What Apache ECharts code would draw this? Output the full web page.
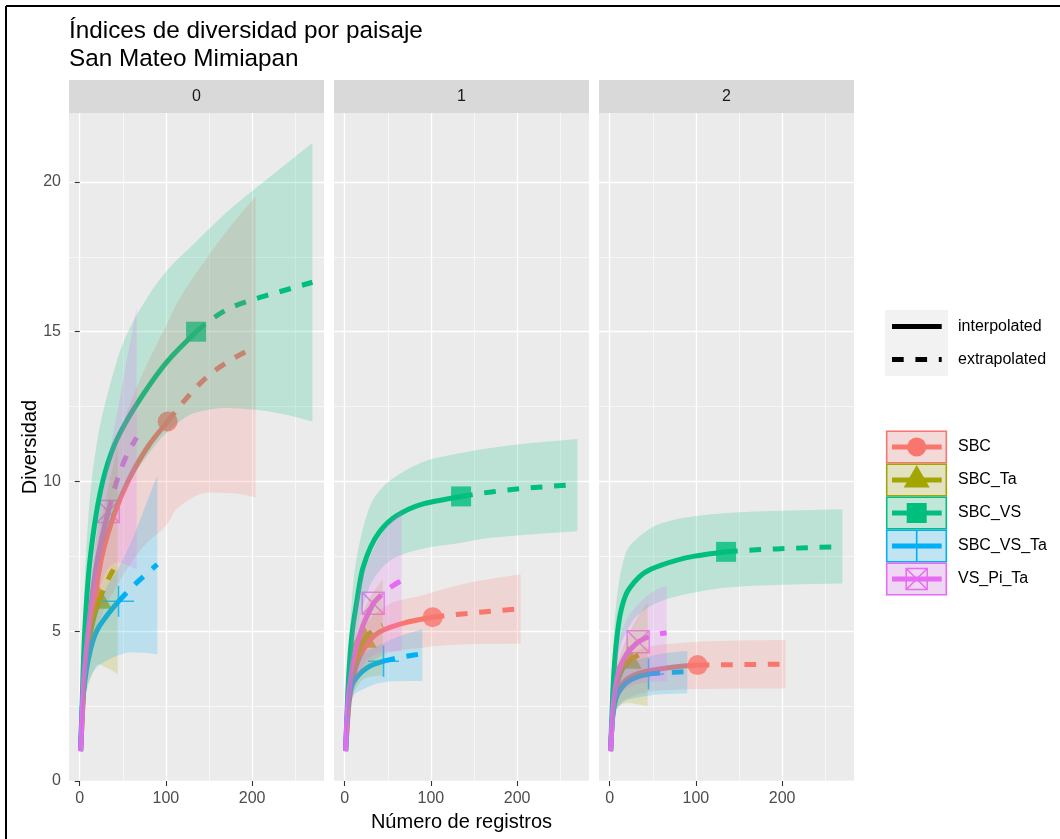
<!DOCTYPE html>
<html><head><meta charset="utf-8">
<script src="https://cdn.jsdelivr.net/npm/echarts@6/dist/echarts.min.js"></script>
<style>html,body{margin:0;padding:0;background:#fff}#c{width:1060px;height:839px}</style>
</head><body><div id="c"></div>
<script>
// ---------------- data ----------------
const FACETS = ['0', '1', '2'];
const GROUPS = ['SBC', 'SBC_Ta', 'SBC_VS', 'SBC_VS_Ta', 'VS_Pi_Ta'];
const LINETYPES = ['interpolated', 'extrapolated'];
const X_TICKS = [0, 100, 200];
const X_MINOR = [50, 150, 250];
const Y_TICKS = [0, 5, 10, 15, 20];
const Y_MINOR = [2.5, 7.5, 12.5, 17.5];
const X_RANGE = [-12.45, 283.45];
const Y_RANGE = [0, 22.3];

// facet 0  (interp: [m, qD], extrap: [m, qD], band: [m, lower, upper])
const F0_SBC_interp = [[1,1],[5,3.2],[11.6,5],[17,6.0],[25,7.4],[40,8.9],[56,10.0],[80,11.2],[102,12.0]];
const F0_SBC_extrap = [[102,12.0],[120,12.65],[150,13.55],[175,14.05],[204,14.5]];
const F0_SBC_band = [[1,1,1],[5,2.6,3.8],[11.6,3.9,6.1],[25,5.5,9.3],[43,6.5,11.3],[73,7.8,13.6],[102,8.6,15.3],[112,9.07,15.9],[151,9.63,17.6],[180,9.6,18.7],[204,9.47,19.5]];
const F0_SBC_Ta_interp = [[1,1],[5,3.2],[10,4.5],[15,5.3],[22,6.0]];
const F0_SBC_Ta_extrap = [[22,6.0],[30,6.55],[37,6.95],[44,7.3]];
const F0_SBC_Ta_band = [[1,1,1],[5,2.5,3.9],[10,3.2,5.7],[22,3.9,8.1],[30,3.8,9.4],[37,3.7,10.3],[44,3.57,11.2]];
const F0_SBC_VS_interp = [[1,1],[5.8,5],[12.4,7.5],[26.7,10],[40,11.2],[56,12.1],[70,12.75],[100,13.95],[135,15.0]];
const F0_SBC_VS_extrap = [[135,15.0],[150,15.35],[175,15.8],[210,16.15],[240,16.4],[270,16.65]];
const F0_SBC_VS_band = [[1,1,1],[5,3.9,6.0],[10,5.3,8.8],[20,7.0,11.3],[35,8.6,13.2],[50,9.6,14.6],[77,10.8,16.07],[100,11.6,17.0],[135,12.3,18.0],[171,12.45,19.0],[200,12.4,19.7],[235,12.25,20.5],[270,12.0,21.3]];
const F0_SBC_VS_Ta_interp = [[1,1],[3,2.5],[10,4.07],[19,4.97],[31,5.5],[45,6.0]];
const F0_SBC_VS_Ta_extrap = [[45,6.0],[60,6.45],[75,6.85],[90,7.23]];
const F0_SBC_VS_Ta_band = [[1,1,1],[5,2.7,3.4],[10,3.3,4.7],[20,3.8,5.7],[30,4.0,6.4],[45,4.2,7.1],[60,4.3,8.0],[75,4.28,9.1],[90,4.23,10.2]];
const F0_VS_Pi_Ta_interp = [[1,1],[5,3.5],[9.7,5],[19.3,7.2],[33,9.0]];
const F0_VS_Pi_Ta_extrap = [[33,9.0],[44,10.1],[55,10.9],[66,11.47]];
const F0_VS_Pi_Ta_band = [[1,1,1],[5,2.9,4.2],[10,4.2,5.9],[20,6.0,8.4],[33,7.1,10.7],[44,7.3,12.4],[55,7.2,14.1],[66,7.07,15.8]];

// facet 1
const F1_SBC_interp = [[1,1],[5,2.6],[10,3.5],[20,4.3],[40,4.97],[72,5.3],[102,5.47]];
const F1_SBC_extrap = [[102,5.47],[130,5.56],[160,5.64],[204,5.75]];
const F1_SBC_band = [[1,1,1],[5,2.2,3.0],[10,3.0,4.1],[20,3.6,5.0],[40,4.15,5.7],[60,4.35,6.0],[91,4.45,6.2],[102,4.5,6.3],[150,4.57,6.65],[204,4.59,6.9]];
const F1_SBC_Ta_interp = [[1,1],[5,2.8],[10,3.7],[15,4.2],[22,4.7]];
const F1_SBC_Ta_extrap = [[22,4.7],[30,4.95],[37,5.1],[44,5.2]];
const F1_SBC_Ta_band = [[1,1,1],[5,2.4,3.2],[10,2.9,4.5],[22,3.4,5.7],[33,3.5,6.3],[44,3.51,6.73]];
const F1_SBC_VS_interp = [[1,1],[4,3.2],[8,4.8],[13.5,5.9],[21,7.1],[40,8.3],[60,8.85],[91,9.25],[135,9.5]];
const F1_SBC_VS_extrap = [[135,9.5],[170,9.65],[205,9.76],[240,9.84],[270,9.9]];
const F1_SBC_VS_band = [[1,1,1],[5,2.8,4.5],[10,4.2,6.6],[17.4,5.4,7.97],[33,6.73,9.4],[60,7.48,10.18],[99,7.8,10.73],[135,7.95,10.95],[157,8.07,11.07],[210,8.22,11.27],[270,8.34,11.42]];
const F1_SBC_VS_Ta_interp = [[1,1],[3,2.2],[5,2.8],[10,3.3],[20,3.65],[30,3.85],[45,4.0]];
const F1_SBC_VS_Ta_extrap = [[45,4.0],[60,4.1],[75,4.18],[90,4.25]];
const F1_SBC_VS_Ta_band = [[1,1,1],[5,2.3,3.2],[11.6,2.9,3.8],[20,3.05,4.2],[45,3.3,4.6],[60,3.33,4.8],[90,3.34,5.07]];
const F1_VS_Pi_Ta_interp = [[1,1],[3,2.3],[5,3.0],[10,4.0],[20,5.1],[33,5.93]];
const F1_VS_Pi_Ta_extrap = [[33,5.93],[44,6.25],[55,6.5],[66,6.7]];
const F1_VS_Pi_Ta_band = [[1,1,1],[5,2.3,3.8],[10,3.0,5.4],[20,3.8,6.8],[33,4.2,7.7],[44,4.3,8.3],[55,4.33,8.7],[66,4.34,9.01]];

// facet 2
const F2_SBC_interp = [[1,1],[3,2.0],[5,2.5],[10,3.0],[20,3.4],[40,3.65],[60,3.75],[80,3.82],[102,3.87]];
const F2_SBC_extrap = [[102,3.87],[130,3.88],[165,3.89],[204,3.9]];
const F2_SBC_band = [[1,1,1],[5,2.1,2.9],[10,2.5,3.6],[20,2.75,4.1],[40,2.95,4.45],[60,3.02,4.55],[102,3.07,4.65],[150,3.09,4.69],[204,3.09,4.71]];
const F2_SBC_Ta_interp = [[1,1],[3,2.1],[5,2.7],[10,3.4],[15,3.75],[22,4.0]];
const F2_SBC_Ta_extrap = [[22,4.0],[30,4.15],[37,4.25],[44,4.3]];
const F2_SBC_Ta_band = [[1,1,1],[5,2.2,3.1],[10,2.5,4.0],[22,2.6,4.9],[33,2.55,5.5],[44,2.5,5.95]];
const F2_SBC_VS_interp = [[1,1],[3,2.6],[5,3.7],[8,4.7],[12.4,5.6],[20,6.3],[28,6.62],[40,6.95],[59,7.2],[97,7.5],[135,7.65]];
const F2_SBC_VS_extrap = [[135,7.65],[170,7.72],[205,7.76],[240,7.8],[270,7.82]];
const F2_SBC_VS_band = [[1,1,1],[3,2.2,3.5],[5,3.0,5.0],[12.4,4.5,6.9],[20,5.0,7.7],[28,5.4,8.0],[59,6.0,8.6],[100,6.3,8.85],[136,6.46,8.95],[200,6.55,9.02],[270,6.59,9.07]];
const F2_SBC_VS_Ta_interp = [[1,1],[3,2.0],[5,2.5],[10,2.95],[20,3.3],[30,3.45],[45,3.57]];
const F2_SBC_VS_Ta_extrap = [[45,3.57],[60,3.61],[75,3.63],[90,3.65]];
const F2_SBC_VS_Ta_band = [[1,1,1],[5,2.1,2.9],[10,2.45,3.5],[20,2.7,3.9],[45,2.85,4.15],[60,2.9,4.25],[90,2.93,4.34]];
const F2_VS_Pi_Ta_interp = [[1,1],[3,2.1],[5,2.8],[10,3.6],[20,4.25],[33,4.65]];
const F2_VS_Pi_Ta_extrap = [[33,4.65],[44,4.8],[55,4.9],[66,4.95]];
const F2_VS_Pi_Ta_band = [[1,1,1],[5,2.3,3.5],[10,2.8,4.6],[20,3.1,5.4],[33,3.25,5.9],[44,3.3,6.2],[55,3.33,6.4],[66,3.34,6.51]];

// ---------------- style ----------------
const COLORS = ['#F8766D', '#A3A500', '#00BF7D', '#00B0F6', '#E76BF3'];
const FONT = '"Liberation Sans", Arial, Helvetica, sans-serif';

const TABLE = [
  [[F0_SBC_interp,F0_SBC_extrap,F0_SBC_band],[F0_SBC_Ta_interp,F0_SBC_Ta_extrap,F0_SBC_Ta_band],[F0_SBC_VS_interp,F0_SBC_VS_extrap,F0_SBC_VS_band],[F0_SBC_VS_Ta_interp,F0_SBC_VS_Ta_extrap,F0_SBC_VS_Ta_band],[F0_VS_Pi_Ta_interp,F0_VS_Pi_Ta_extrap,F0_VS_Pi_Ta_band]],
  [[F1_SBC_interp,F1_SBC_extrap,F1_SBC_band],[F1_SBC_Ta_interp,F1_SBC_Ta_extrap,F1_SBC_Ta_band],[F1_SBC_VS_interp,F1_SBC_VS_extrap,F1_SBC_VS_band],[F1_SBC_VS_Ta_interp,F1_SBC_VS_Ta_extrap,F1_SBC_VS_Ta_band],[F1_VS_Pi_Ta_interp,F1_VS_Pi_Ta_extrap,F1_VS_Pi_Ta_band]],
  [[F2_SBC_interp,F2_SBC_extrap,F2_SBC_band],[F2_SBC_Ta_interp,F2_SBC_Ta_extrap,F2_SBC_Ta_band],[F2_SBC_VS_interp,F2_SBC_VS_extrap,F2_SBC_VS_band],[F2_SBC_VS_Ta_interp,F2_SBC_VS_Ta_extrap,F2_SBC_VS_Ta_band],[F2_VS_Pi_Ta_interp,F2_VS_Pi_Ta_extrap,F2_VS_Pi_Ta_band]]
];

function rgba(hex, a) {
  const n = parseInt(hex.slice(1), 16);
  return 'rgba(' + (n >> 16) + ',' + ((n >> 8) & 255) + ',' + (n & 255) + ',' + a + ')';
}

// marker symbols (ggplot shapes 16, 17, 15, 3, 7)
const PLUS_PATH = 'path://M10,0L10,20M0,10L20,10';
const BOXX_PATH = 'path://M0,0L20,0L20,20L0,20ZM0,0L20,20M20,0L0,20';
function markerStyle(g) {
  const c = COLORS[g];
  switch (g) {
    case 0: return {symbol: 'circle', symbolSize: 20, itemStyle: {color: c}};
    case 1: return {symbol: 'triangle', symbolSize: [26, 23], symbolOffset: [0, -4], itemStyle: {color: c}};
    case 2: return {symbol: 'rect', symbolSize: 20, itemStyle: {color: c}};
    case 3: return {symbol: PLUS_PATH, symbolSize: 31, itemStyle: {color: 'none', borderColor: c, borderWidth: 1.6}};
    default: return {symbol: BOXX_PATH, symbolSize: 22, itemStyle: {color: 'none', borderColor: c, borderWidth: 1.5}};
  }
}

// monotone cubic path through pixel points
function curveSegments(p) {
  const n = p.length, d = [], m = [];
  for (let i = 0; i < n - 1; i++) d[i] = (p[i + 1][1] - p[i][1]) / (p[i + 1][0] - p[i][0]);
  m[0] = d[0]; m[n - 1] = d[n - 2];
  for (let i = 1; i < n - 1; i++) {
    if (d[i - 1] * d[i] <= 0) { m[i] = 0; continue; }
    const h0 = p[i][0] - p[i - 1][0], h1 = p[i + 1][0] - p[i][0];
    const w1 = 2 * h1 + h0, w2 = h1 + 2 * h0;
    m[i] = (w1 + w2) / (w1 / d[i - 1] + w2 / d[i]);
  }
  let s = '';
  for (let i = 0; i < n - 1; i++) {
    const h = p[i + 1][0] - p[i][0];
    s += 'C' + (p[i][0] + h / 3) + ',' + (p[i][1] + m[i] * h / 3) + ',' +
      (p[i + 1][0] - h / 3) + ',' + (p[i + 1][1] - m[i + 1] * h / 3) + ',' +
      p[i + 1][0] + ',' + p[i + 1][1];
  }
  return s;
}

function bandRenderer(band, color) {
  return function (params, api) {
    const up = band.map(d => api.coord([d[0], d[2]]));
    const lo = band.map(d => api.coord([d[0], d[1]])).reverse();
    const path = 'M' + up[0][0] + ',' + up[0][1] + curveSegments(up) +
      'L' + lo[0][0] + ',' + lo[0][1] + curveSegments(lo) + 'Z';
    return {type: 'path', shape: {pathData: path}, style: {fill: rgba(color, 0.2), stroke: null}};
  };
}

function lineRenderer(pts, color, dashed) {
  return function (params, api) {
    const p = pts.map(d => api.coord([d[0], d[1]]));
    const path = 'M' + p[0][0] + ',' + p[0][1] + curveSegments(p);
    return {type: 'path', shape: {pathData: path},
      style: {fill: 'none', stroke: color, lineWidth: 5, lineDash: dashed ? [11.7, 11.7] : null, lineCap: 'butt', lineJoin: 'round'}};
  };
}

// ---------------- layout ----------------
const PANEL_LEFT = [69, 334, 599];
const PANEL_W = 255, PANEL_TOP = 113, PANEL_H = 668, STRIP_TOP = 80;

const grids = [], xAxes = [], yAxes = [], series = [];
FACETS.forEach((f, i) => {
  grids.push({left: PANEL_LEFT[i], top: PANEL_TOP, width: PANEL_W, height: PANEL_H,
    show: true, backgroundColor: '#EBEBEB', borderWidth: 0, containLabel: false});
  xAxes.push({gridIndex: i, type: 'value', min: X_RANGE[0], max: X_RANGE[1], position: 'bottom',
    axisLine: {show: false},
    axisTick: {show: true, length: 5, customValues: X_TICKS, lineStyle: {color: '#333333', width: 1.1}},
    axisLabel: {show: true, customValues: X_TICKS, color: '#4D4D4D', fontSize: 16, fontFamily: FONT, margin: 10},
    splitLine: {show: true, lineStyle: {color: '#FFFFFF', width: 1.3}}});
  xAxes.push({gridIndex: i, type: 'value', min: X_RANGE[0], max: X_RANGE[1], position: 'bottom',
    axisLine: {show: false}, axisTick: {show: false, customValues: X_MINOR}, axisLabel: {show: false},
    splitLine: {show: true, lineStyle: {color: '#FFFFFF', width: 0.6}}});
  yAxes.push({gridIndex: i, type: 'value', min: Y_RANGE[0], max: Y_RANGE[1], position: 'left',
    axisLine: {show: false},
    axisTick: {show: i === 0, length: 5, customValues: Y_TICKS, lineStyle: {color: '#333333', width: 1.1}},
    axisLabel: {show: i === 0, customValues: Y_TICKS, color: '#4D4D4D', fontSize: 16, fontFamily: FONT, margin: 8},
    splitLine: {show: true, lineStyle: {color: '#FFFFFF', width: 1.3}}});
  yAxes.push({gridIndex: i, type: 'value', min: Y_RANGE[0], max: Y_RANGE[1], position: 'left',
    axisLine: {show: false}, axisTick: {show: false, customValues: Y_MINOR}, axisLabel: {show: false},
    splitLine: {show: true, lineStyle: {color: '#FFFFFF', width: 0.6}}});

  const xi = 2 * i, yi = 2 * i;
  // points layer
  GROUPS.forEach((g, gi) => {
    const interp = TABLE[i][gi][0];
    series.push(Object.assign({type: 'scatter', name: g, xAxisIndex: xi, yAxisIndex: yi, z: 2,
      silent: true, animation: false, data: [interp[interp.length - 1]]}, markerStyle(gi)));
  });
  // lines layer
  GROUPS.forEach((g, gi) => {
    const [interp, extrap] = TABLE[i][gi];
    series.push({type: 'custom', name: g + ' ' + LINETYPES[0], xAxisIndex: xi, yAxisIndex: yi, z: 3,
      silent: true, animation: false, clip: true, data: [interp[0]],
      renderItem: lineRenderer(interp, COLORS[gi], false)});
    series.push({type: 'custom', name: g + ' ' + LINETYPES[1], xAxisIndex: xi, yAxisIndex: yi, z: 3,
      silent: true, animation: false, clip: true, data: [extrap[0]],
      renderItem: lineRenderer(extrap, COLORS[gi], true)});
  });
  // ribbons layer
  GROUPS.forEach((g, gi) => {
    const band = TABLE[i][gi][2];
    series.push({type: 'custom', name: g + ' band', xAxisIndex: xi, yAxisIndex: yi, z: 4,
      silent: true, animation: false, clip: true, data: [[band[0][0], band[0][1]]],
      renderItem: bandRenderer(band, COLORS[gi])});
  });
});

// ---------------- graphic (titles, strips, legend, frame) ----------------
const graphic = [];
graphic.push({type: 'rect', shape: {x: 0, y: 0, width: 1060, height: 839}, style: {fill: '#FFFFFF'}, z: -10, silent: true});
graphic.push({type: 'line', shape: {x1: 6, y1: 6, x2: 1060, y2: 6}, style: {stroke: '#000', lineWidth: 2}, silent: true});
graphic.push({type: 'line', shape: {x1: 6, y1: 6, x2: 6, y2: 839}, style: {stroke: '#000', lineWidth: 2}, silent: true});
graphic.push({type: 'text', x: 69, y: 31, style: {text: 'Índices de diversidad por paisaje', fill: '#000', font: '24.3px ' + FONT, verticalAlign: 'middle', align: 'left'}, silent: true});
graphic.push({type: 'text', x: 69, y: 59, style: {text: 'San Mateo Mimiapan', fill: '#000', font: '24.3px ' + FONT, verticalAlign: 'middle', align: 'left'}, silent: true});
FACETS.forEach((f, i) => {
  graphic.push({type: 'rect', shape: {x: PANEL_LEFT[i], y: STRIP_TOP, width: PANEL_W, height: PANEL_TOP - STRIP_TOP}, style: {fill: '#D9D9D9'}, silent: true});
  graphic.push({type: 'text', x: PANEL_LEFT[i] + PANEL_W / 2, y: (STRIP_TOP + PANEL_TOP) / 2, style: {text: f, fill: '#1A1A1A', font: '16px ' + FONT, align: 'center', verticalAlign: 'middle'}, silent: true});
});
graphic.push({type: 'text', x: (PANEL_LEFT[0] + PANEL_LEFT[2] + PANEL_W) / 2, y: 822, style: {text: 'Número de registros', fill: '#000', font: '20px ' + FONT, align: 'center', verticalAlign: 'middle'}, silent: true});
graphic.push({type: 'text', x: 30, y: PANEL_TOP + PANEL_H / 2, rotation: Math.PI / 2, style: {text: 'Diversidad', fill: '#000', font: '20px ' + FONT, align: 'center', verticalAlign: 'middle'}, silent: true});

// legend 1: linetype
const LG_X = 886, LG_W = 61, KEY_H = 33;
graphic.push({type: 'rect', shape: {x: LG_X - 1, y: 310, width: LG_W + 2, height: 2 * KEY_H}, style: {fill: '#F2F2F2'}, silent: true});
LINETYPES.forEach((lt, k) => {
  const cy = 310 + KEY_H * k + KEY_H / 2;
  graphic.push({type: 'line', shape: {x1: 892, y1: cy, x2: 941.7, y2: cy}, style: {stroke: '#000', lineWidth: 5, lineDash: k ? [11.7, 11.7] : null, lineCap: 'butt'}, silent: true});
  graphic.push({type: 'text', x: 958, y: cy, style: {text: lt, fill: '#000', font: '16px ' + FONT, verticalAlign: 'middle'}, silent: true});
});
// legend 2: groups
const LG2_TOP = 430.5;
graphic.push({type: 'rect', shape: {x: LG_X - 1, y: LG2_TOP, width: LG_W + 2, height: 5 * KEY_H}, style: {fill: '#F2F2F2'}, silent: true});
GROUPS.forEach((g, gi) => {
  const c = COLORS[gi];
  const top = LG2_TOP + KEY_H * gi, cy = top + KEY_H / 2, cx = 916.7;
  graphic.push({type: 'rect', shape: {x: LG_X + 0.75, y: top + 0.75, width: LG_W - 1.5, height: KEY_H - 1.5}, style: {fill: rgba(c, 0.2), stroke: c, lineWidth: 1.5}, silent: true});
  if (gi === 0) graphic.push({type: 'circle', shape: {cx: cx, cy: cy, r: 9.5}, style: {fill: c}, silent: true});
  if (gi === 1) graphic.push({type: 'polygon', shape: {points: [[cx, cy - 15], [cx - 13, cy + 7.5], [cx + 13, cy + 7.5]]}, style: {fill: c}, silent: true});
  if (gi === 2) graphic.push({type: 'rect', shape: {x: cx - 10, y: cy - 10, width: 20, height: 20}, style: {fill: c}, silent: true});
  if (gi === 3) graphic.push({type: 'line', shape: {x1: cx, y1: top + 1.5, x2: cx, y2: top + KEY_H - 1.5}, style: {stroke: c, lineWidth: 1.6}, silent: true});
  if (gi === 4) {
    graphic.push({type: 'rect', shape: {x: cx - 10.5, y: cy - 10.5, width: 21, height: 21}, style: {fill: 'none', stroke: c, lineWidth: 1.5}, silent: true});
    graphic.push({type: 'line', shape: {x1: cx - 10.5, y1: cy - 10.5, x2: cx + 10.5, y2: cy + 10.5}, style: {stroke: c, lineWidth: 1.5}, silent: true});
    graphic.push({type: 'line', shape: {x1: cx + 10.5, y1: cy - 10.5, x2: cx - 10.5, y2: cy + 10.5}, style: {stroke: c, lineWidth: 1.5}, silent: true});
  }
  graphic.push({type: 'line', shape: {x1: 892, y1: cy, x2: 941.7, y2: cy}, style: {stroke: c, lineWidth: 5, lineCap: 'butt'}, silent: true});
  graphic.push({type: 'text', x: 958, y: cy, style: {text: g, fill: '#000', font: '16px ' + FONT, verticalAlign: 'middle'}, silent: true});
});

const chart = echarts.init(document.getElementById('c'), null, {renderer: 'canvas'});
chart.setOption({
  backgroundColor: '#FFFFFF',
  animation: false,
  grid: grids, xAxis: xAxes, yAxis: yAxes, series: series, graphic: graphic
});
</script></body></html>
